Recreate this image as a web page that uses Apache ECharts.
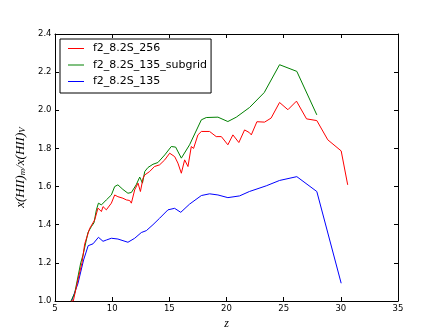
<!DOCTYPE html>
<html>
<head>
<meta charset="utf-8">
<script src="https://cdn.jsdelivr.net/npm/echarts@6/dist/echarts.min.js"></script>
<style>
  html, body { margin: 0; padding: 0; background: #fff; }
  #main { width: 443px; height: 335px; }
</style>
</head>
<body>
<div id="main"></div>
<script>
// series names
const seriesNames = ["f2_8.2S_256", "f2_8.2S_135_subgrid", "f2_8.2S_135"];

// red: f2_8.2S_256
const redZ = [6.4, 6.6, 7.0, 7.36, 7.6, 8.03, 8.47, 8.76, 9.06, 9.2, 9.49, 9.93, 10.22, 10.5, 10.94, 11.24, 11.53, 11.68,
  11.97, 12.26, 12.47, 12.7, 12.85, 13.28, 13.7, 14.15, 14.6, 15.03, 15.47, 15.75, 16.05, 16.34, 16.63, 16.92, 17.12,
  17.5, 17.8, 18.52, 19.1, 19.55, 20.12, 20.56, 21.08, 21.58, 22.0, 22.17, 22.66, 23.33, 23.9, 24.64, 25.37, 26.12,
  27.0, 27.9, 28.86, 30.03, 30.6];
const redV = [1.0, 1.0, 1.11, 1.2, 1.30, 1.38, 1.425, 1.487, 1.469, 1.495, 1.478, 1.513, 1.556, 1.547, 1.539, 1.53, 1.527, 1.513,
  1.583, 1.618, 1.574, 1.644, 1.661, 1.679, 1.705, 1.714, 1.74, 1.775, 1.757, 1.723, 1.67, 1.74, 1.705, 1.81, 1.80,
  1.871, 1.889, 1.889, 1.862, 1.862, 1.819, 1.871, 1.831, 1.897, 1.883, 1.871, 1.94, 1.938, 1.959, 2.041, 2.003, 2.048,
  1.955, 1.946, 1.845, 1.787, 1.609];

// green: f2_8.2S_135_subgrid
const greenZ = [6.4, 6.5, 6.72, 7.25, 7.45, 7.89, 8.18, 8.41, 8.62, 8.8, 9.06, 9.2, 9.49, 9.93, 10.22, 10.5, 10.94, 11.38,
  11.68, 12.1, 12.41, 12.65, 12.85, 13.13, 13.57, 14.0, 14.6, 15.17, 15.55, 16.05, 16.77, 17.8, 18.23, 19.25, 20.12,
  20.86, 22.02, 23.3, 24.64, 26.15, 27.9];
const greenV = [1.0, 1.0, 1.04, 1.2, 1.241, 1.36, 1.39, 1.41, 1.478, 1.513, 1.504, 1.506, 1.53, 1.556, 1.6, 1.609, 1.585, 1.565,
  1.569, 1.609, 1.65, 1.618, 1.679, 1.70, 1.717, 1.726, 1.766, 1.81, 1.807, 1.749, 1.819, 1.95, 1.962, 1.964, 1.941,
  1.964, 2.015, 2.093, 2.239, 2.204, 1.976];

// blue: f2_8.2S_135
const blueZ = [6.45, 6.6, 7.0, 7.5, 7.9, 8.33, 8.5, 8.8, 9.2, 9.5, 9.93, 10.5, 11.38, 11.97, 12.55, 12.99, 13.57, 14.15,
  14.88, 15.46, 16.0, 16.77, 17.8, 18.52, 19.25, 20.12, 21.14, 22.0, 23.48, 24.64, 26.15, 27.9, 30.03];
const blueV = [1.0, 1.0, 1.09, 1.215, 1.29, 1.30, 1.30, 1.334, 1.313, 1.32, 1.329, 1.325, 1.308, 1.329, 1.359, 1.369, 1.40, 1.434,
  1.478, 1.486, 1.465, 1.508, 1.553, 1.562, 1.556, 1.542, 1.551, 1.574, 1.604, 1.632, 1.652, 1.574, 1.093];

const colors = ["#ff0000", "#008000", "#0000ff"];

const pairs = (zs, vs) => zs.map((z, i) => [z, vs[i]]);
const allData = [pairs(redZ, redV), pairs(greenZ, greenV), pairs(blueZ, blueV)];

const chart = echarts.init(document.getElementById("main"));

const tickStyle = { inside: true, length: 4, lineStyle: { color: "#000", width: 1 } };
const lineAxis = { lineStyle: { color: "#000", width: 1 } };
const labelFont = { color: "#000", fontSize: 8.5, fontFamily: "DejaVu Sans" };

const option = {
  animation: false,
  backgroundColor: "#fff",
  grid: { left: 55, right: 45, top: 34, bottom: 34 },
  legend: {
    orient: "vertical",
    left: 60,
    top: 39,
    data: seriesNames.map((n) => ({ name: n, icon: "rect" })),
    borderColor: "#000",
    borderWidth: 1,
    borderRadius: 0,
    backgroundColor: "#fff",
    padding: [1.5, 4, 3.5, 8],
    itemGap: 0.5,
    itemWidth: 16,
    itemHeight: 1,
    textStyle: {
      fontFamily: "DejaVu Sans",
      fontSize: 11,
      color: "#000",
      lineHeight: 16,
      padding: [0, 0, 0, 4]
    }
  },
  xAxis: [
    {
      type: "value",
      min: 5,
      max: 35,
      interval: 5,
      name: "z",
      nameLocation: "middle",
      nameGap: 11,
      nameTextStyle: { fontFamily: "Liberation Serif", fontStyle: "italic", fontSize: 12, color: "#000" },
      axisLine: lineAxis,
      axisTick: tickStyle,
      axisLabel: Object.assign({ margin: 3 }, labelFont),
      splitLine: { show: false }
    },
    {
      type: "value",
      position: "top",
      min: 5,
      max: 35,
      interval: 5,
      axisLine: lineAxis,
      axisTick: tickStyle,
      axisLabel: { show: false },
      splitLine: { show: false }
    }
  ],
  yAxis: [
    {
      type: "value",
      min: 1.0,
      max: 2.4,
      interval: 0.2,
      name: "{i|x(HII)}{s|m}{i|/x(HII)}{s|V}",
      nameLocation: "middle",
      nameGap: 24,
      nameTextStyle: {
        color: "#000",
        rich: {
          i: { fontFamily: "Liberation Serif", fontStyle: "italic", fontSize: 13, color: "#000" },
          s: { fontFamily: "Liberation Serif", fontStyle: "italic", fontSize: 9, color: "#000", verticalAlign: "bottom", padding: [4, 0, 0, 0] }
        }
      },
      axisLine: Object.assign({ show: true }, lineAxis),
      axisTick: Object.assign({ show: true }, tickStyle),
      axisLabel: Object.assign({ margin: 3.5, formatter: (v) => v.toFixed(1) }, labelFont),
      splitLine: { show: false }
    },
    {
      type: "value",
      position: "right",
      min: 1.0,
      max: 2.4,
      interval: 0.2,
      axisLine: Object.assign({ show: true }, lineAxis),
      axisTick: Object.assign({ show: true }, tickStyle),
      axisLabel: { show: false },
      splitLine: { show: false }
    }
  ],
  series: seriesNames.map((name, i) => ({
    name: name,
    type: "line",
    data: allData[i],
    symbol: "none",
    showSymbol: false,
    color: colors[i],
    lineStyle: { color: colors[i], width: 1 },
    z: 3 - i
  }))
};

chart.setOption(option);
</script>
</body>
</html>
